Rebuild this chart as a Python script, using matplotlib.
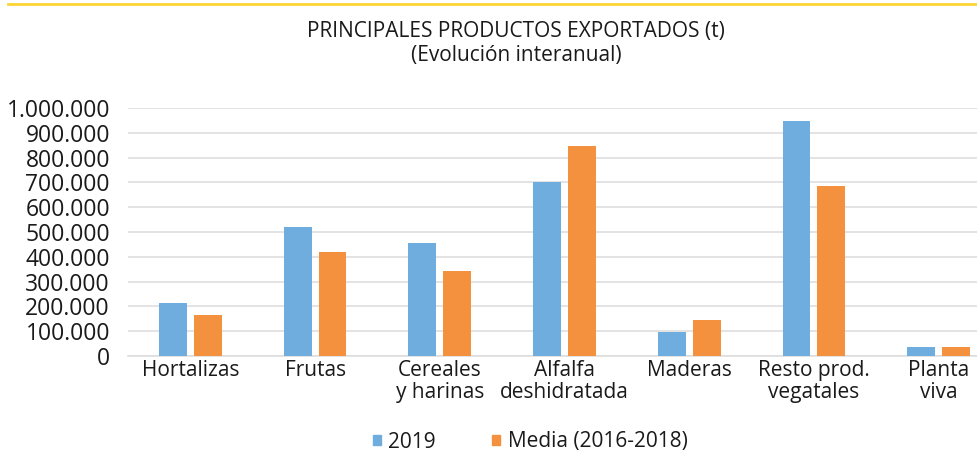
import matplotlib.pyplot as plt
import matplotlib.ticker as mticker
import numpy as np
from matplotlib.lines import Line2D
from matplotlib.patches import Patch

plt.rcParams['font.family'] = ['Open Sans', 'DejaVu Sans']

# Data (t)
categorias = ['Hortalizas', 'Frutas', 'Cereales\ny harinas', 'Alfalfa\ndeshidratada',
              'Maderas', 'Resto prod.\nvegatales', 'Planta\nviva']
valores_2019 = [214000, 520000, 456000, 702000, 97000, 948000, 36000]
valores_media = [167000, 419000, 343000, 847000, 145000, 686000, 36000]

color_2019 = '#6eaddd'
color_media = '#f3913e'

fig = plt.figure(figsize=(9.78, 4.57), dpi=100)
# plot area runs a little past the right edge, as in the original
ax = fig.add_axes([128 / 978, 101 / 457, 873 / 978, 248 / 457])

x = np.arange(len(categorias))
w = 0.224
off = 0.14
ax.bar(x - off, valores_2019, width=w, color=color_2019, zorder=3)
ax.bar(x + off, valores_media, width=w, color=color_media, zorder=3)

ax.set_xlim(-0.5, len(categorias) - 0.5)
ax.set_ylim(0, 1000000)
ax.set_yticks(np.arange(0, 1000001, 100000))
ax.yaxis.set_major_formatter(mticker.FuncFormatter(lambda v, p: f'{int(v):,}'.replace(',', '.')))
ax.grid(axis='y', color='#dedede', linewidth=1.2, zorder=0)
ax.set_xticks(x)
ax.set_xticklabels(categorias, fontsize=15, color='#1a1a1a', linespacing=1.05)
ax.tick_params(axis='y', labelsize=16.5, labelcolor='#1a1a1a', length=0, pad=13)
ax.tick_params(axis='x', length=0, pad=3)
for s in ['top', 'right', 'left']:
    ax.spines[s].set_visible(False)
ax.spines['bottom'].set_color('#dedede')
ax.spines['bottom'].set_linewidth(1.2)

fig.text(516 / 978, 1 - 32 / 457, 'PRINCIPALES PRODUCTOS EXPORTADOS (t)', ha='center', va='center',
         fontsize=15, color='#1a1a1a')
fig.text(516 / 978, 1 - 56 / 457, '(Evolución interanual)', ha='center', va='center',
         fontsize=15, color='#1a1a1a')

# yellow rule on top
fig.add_artist(Line2D([8 / 978, 1], [1 - 3.5 / 457, 1 - 3.5 / 457], color='#fcd535', linewidth=2,
                      transform=fig.transFigure))

handles = [Patch(color=color_2019, label='2019'), Patch(color=color_media, label='Media (2016-2018)')]
fig.legend(handles=handles, loc='center', bbox_to_anchor=(530 / 978, 1 - 442 / 457), ncol=2,
           frameon=False, fontsize=15, handlelength=0.4, handleheight=0.4, handletextpad=0.35,
           columnspacing=2.7, labelcolor='#1a1a1a')

fig.savefig('out.png', dpi=100)
